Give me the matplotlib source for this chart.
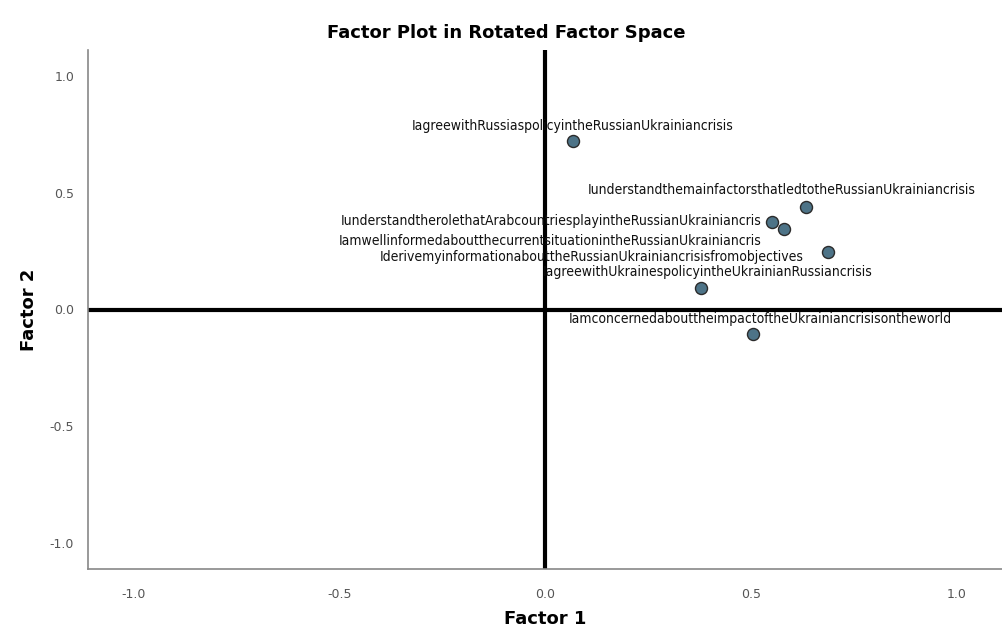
import numpy as np
import matplotlib
matplotlib.use("Agg")
import matplotlib.pyplot as plt

# Factor loadings
items = [
    "IagreewithRussiaspolicyintheRussianUkrainiancrisis",
    "IunderstandthemainfactorsthatledtotheRussianUkrainiancrisis",
    "IunderstandtherolethatArabcountriesplayintheRussianUkrainiancris",
    "IamwellinformedaboutthecurrentsituationintheRussianUkrainiancris",
    "IderivemyinformationabouttheRussianUkrainiancrisisfromobjectives",
    "IagreewithUkrainespolicyintheUkrainianRussiancrisis",
    "IamconcernedabouttheimpactoftheUkrainiancrisisontheworld",
]
factor1 = [0.068, 0.634, 0.552, 0.581, 0.688, 0.380, 0.506]
factor2 = [0.720, 0.437, 0.373, 0.343, 0.244, 0.090, -0.103]
ticks = [-1.0, -0.5, 0.0, 0.5, 1.0]

# label placement (pixel offsets, alignment)
label_pos = [
    (0, 15, "center"),
    (-24, 17, "center"),
    (-11, 1, "right"),
    (-23, -12, "right"),
    (-25, -5, "right"),
    (6, 16, "center"),
    (7, 15, "center"),
]

fig = plt.figure(figsize=(10.02, 6.32), dpi=100)
ax = fig.add_axes([88 / 1002, 63 / 632, 914 / 1002, 519 / 632])

ax.axhline(0, color="black", lw=3, zorder=1)
ax.axvline(0, color="black", lw=3, zorder=1)

ax.scatter(factor1, factor2, s=75, color="#4d7387", edgecolor="#2b2b2b",
           linewidth=1, zorder=3)

for name, x, y, (dx, dy, ha) in zip(items, factor1, factor2, label_pos):
    ax.annotate(name, (x, y), xytext=(dx, dy), textcoords="offset pixels",
                ha=ha, va="center", fontsize=10, color="#111111",
                family="DejaVu Sans", fontstretch="condensed", zorder=4)

ax.set_xlim(-1.11, 1.11)
ax.set_ylim(-1.11, 1.11)
ax.set_xticks(ticks)
ax.set_yticks(ticks)
ax.set_xticklabels([f"{t:.1f}" for t in ticks])
ax.set_yticklabels([f"{t:.1f}" for t in ticks])
ax.tick_params(length=0, labelsize=9, colors="#555555", pad=14)
ax.tick_params(axis="y", pad=10)

for side in ["top", "right"]:
    ax.spines[side].set_visible(False)
for side in ["left", "bottom"]:
    ax.spines[side].set_color("#888888")
    ax.spines[side].set_linewidth(1.2)

ax.set_xlabel("Factor 1", fontsize=13, fontweight="bold", labelpad=6)
ax.set_ylabel("Factor 2", fontsize=13, fontweight="bold", labelpad=8)
fig.suptitle("Factor Plot in Rotated Factor Space", x=0.505, y=0.962,
             fontsize=13, fontweight="bold")

fig.savefig("out.png", dpi=100)
